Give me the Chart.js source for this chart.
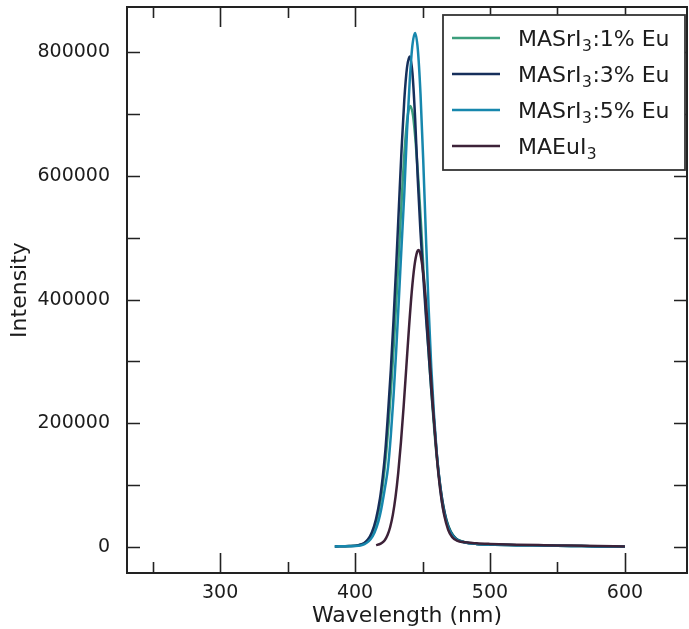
<!DOCTYPE html>
<html>
<head>
<meta charset="utf-8">
<script src="https://cdn.jsdelivr.net/npm/chart.js@4/dist/chart.umd.min.js"></script>
<style>
  html, body { margin: 0; padding: 0; background: #ffffff; }
  canvas { display: block; }
</style>
</head>
<body>
<canvas id="c" width="689" height="629"></canvas>
<script>
// ---- data ----
const seriesLabels = ['MASrI₃:1% Eu', 'MASrI₃:3% Eu', 'MASrI₃:5% Eu', 'MAEuI₃'];
const seriesColors = ['#3c9e7c', '#162f5b', '#1787ad', '#3d2238'];

const wl1 = [385, 396, 403, 407, 410, 413, 416, 419, 421, 423, 425, 427, 429, 431, 433, 435, 437, 439, 441,
  443, 445, 447, 449, 451, 453, 455, 457, 459, 461, 463, 465, 468, 471, 475, 480, 485, 490, 500, 520, 540, 560, 580, 600];
const int1 = [1000, 1500, 3000, 6000, 12000, 24000, 44000, 76000, 108000, 150000, 203000, 267000, 337000, 414000, 496000, 579000, 650000, 697000, 713000,
  697000, 652000, 591000, 518000, 437000, 366000, 299000, 238000, 182000, 136000, 100000, 71000, 42000, 25000, 13500, 8500, 6000, 5000, 4000, 3000, 2500, 1800, 1000, 500];

const wl3 = [385, 395.5, 402.5, 406.5, 409.5, 412.5, 415.5, 418.5, 420.5, 422.5, 424.5, 426.5, 428.5, 430.5, 432.5, 434.5, 436.5, 438.5, 440.5,
  442.5, 444.5, 446.5, 448.5, 450.5, 452.5, 454.5, 456.5, 458.5, 460.5, 462.5, 464.5, 467.5, 470.5, 474.5, 479.5, 485, 490, 500, 520, 540, 560, 580, 600];
const int3 = [1000, 1500, 3000, 6000, 12000, 24000, 45000, 79000, 113000, 157000, 218000, 286000, 366000, 455000, 550000, 644000, 723000, 775000, 793000,
  767000, 694000, 594000, 509000, 439000, 374000, 315000, 254000, 203000, 152000, 110000, 78000, 45000, 26000, 14000, 8500, 6000, 5000, 4000, 3000, 2500, 1800, 1000, 500];

const wl5 = [385, 395, 400, 404, 407, 410, 413, 416, 418.5, 420, 422.5, 424.5, 426.5, 428.5, 430.5, 432.5, 434.5, 436.5, 438.5, 440.5, 442.5, 444.5,
  446.5, 448.5, 450.5, 452.5, 454.5, 456.5, 458.5, 460.5, 462.5, 464.5, 467.5, 470.5, 474.5, 479.5, 485, 490, 500, 520, 540, 560, 580, 600];
const int5 = [1000, 1200, 1500, 2500, 4500, 9000, 17000, 32000, 52000, 68000, 100000, 130000, 180000, 243000, 318000, 402000, 488000, 572000, 672000, 753000, 811000, 831000,
  805000, 733000, 627000, 504000, 388000, 290000, 214000, 153000, 108000, 72000, 42000, 25000, 13000, 8500, 6000, 5000, 4000, 3000, 2500, 1800, 1000, 500];

const wlEu = [415.6, 418, 420, 422, 424, 426, 428, 430, 432, 434, 436, 438, 440, 442, 444, 446, 447,
  448, 450, 452, 454, 456, 458, 460, 462, 464, 466, 469, 472, 476, 480, 490, 500, 520, 540, 560, 580, 600];
const intEu = [3000, 4500, 7000, 11000, 19000, 32000, 52000, 81000, 120000, 169000, 227000, 291000, 355000, 412000, 454000, 477000, 480000,
  477000, 452000, 410000, 350000, 283000, 219000, 162000, 114000, 78000, 52000, 28000, 16000, 10000, 8000, 6000, 5000, 3800, 3000, 2300, 1500, 800];

const xMajorTicks = [300, 400, 500, 600];
const xMinorTicks = [250, 350, 450, 550];
const yMajorTicks = [0, 200000, 400000, 600000, 800000];
const yMinorTicks = [100000, 300000, 500000, 700000];
const xTitle = 'Wavelength (nm)';
const yTitle = 'Intensity';

// ---- build datasets ----
const allWl = [wl1, wl3, wl5, wlEu];
const allInt = [int1, int3, int5, intEu];
const datasets = allWl.map((wl, i) => ({
  label: seriesLabels[i],
  data: wl.map((x, j) => ({ x: x, y: allInt[i][j] })),
  borderColor: seriesColors[i],
  backgroundColor: seriesColors[i],
  borderWidth: 2.5,
  pointRadius: 0,
  cubicInterpolationMode: 'monotone',
  fill: false,
  order: allWl.length - i
}));

const FONT = "'DejaVu Sans', sans-serif";
const INK = '#1c1c1c';

const framePlugin = {
  id: 'mplFrame',
  afterDatasetsDraw(chart) {
    const ctx = chart.ctx;
    const a = chart.chartArea;
    const xs = chart.scales.x, ys = chart.scales.y;
    ctx.save();
    ctx.strokeStyle = '#222222';
    ctx.lineWidth = 1.6;
    ctx.lineCap = 'butt';
    const vTick = (x, len) => {
      ctx.beginPath();
      ctx.moveTo(x, a.bottom); ctx.lineTo(x, a.bottom - len);
      ctx.moveTo(x, a.top); ctx.lineTo(x, a.top + len);
      ctx.stroke();
    };
    const hTick = (y, len) => {
      ctx.beginPath();
      ctx.moveTo(a.left, y); ctx.lineTo(a.left + len, y);
      ctx.moveTo(a.right, y); ctx.lineTo(a.right - len, y);
      ctx.stroke();
    };
    xMajorTicks.forEach(v => vTick(Math.round(xs.getPixelForValue(v)) + 0.5, 20));
    xMinorTicks.forEach(v => vTick(Math.round(xs.getPixelForValue(v)) + 0.5, 11));
    yMajorTicks.forEach(v => hTick(Math.round(ys.getPixelForValue(v)) + 0.5, 13));
    yMinorTicks.forEach(v => hTick(Math.round(ys.getPixelForValue(v)) + 0.5, 13));
    ctx.lineWidth = 2;
    ctx.strokeRect(a.left, a.top, a.right - a.left, a.bottom - a.top);

    // legend
    const bx = a.right - 244, by = a.top + 8, bw = 242, bh = 155;
    ctx.fillStyle = '#ffffff';
    ctx.fillRect(bx, by, bw, bh);
    ctx.strokeStyle = '#333333';
    ctx.lineWidth = 1.8;
    ctx.strokeRect(bx, by, bw, bh);
    chart.data.datasets.forEach((ds, i) => {
      const cy = by + 23 + i * 36;
      ctx.strokeStyle = ds.borderColor;
      ctx.lineWidth = 2.5;
      ctx.beginPath();
      ctx.moveTo(bx + 9, cy); ctx.lineTo(bx + 57, cy);
      ctx.stroke();
      ctx.fillStyle = INK;
      ctx.textBaseline = 'alphabetic';
      ctx.textAlign = 'left';
      const base = cy + 8;
      const parts = ds.label.split('₃');
      let tx = bx + 75;
      ctx.font = '22px ' + FONT;
      ctx.fillText(parts[0], tx, base);
      tx += ctx.measureText(parts[0]).width;
      if (parts.length > 1) {
        ctx.font = '15.5px ' + FONT;
        ctx.fillText('3', tx + 0.5, base + 4.5);
        tx += ctx.measureText('3').width + 1;
        ctx.font = '22px ' + FONT;
        ctx.fillText(parts[1], tx, base);
      }
    });
    ctx.restore();
  }
};

const zeroPad = s => { s.paddingTop = 0; s.paddingBottom = 0; s.paddingLeft = 0; s.paddingRight = 0; };

new Chart(document.getElementById('c'), {
  type: 'line',
  data: { datasets: datasets },
  options: {
    responsive: false,
    animation: false,
    events: [],
    layout: { padding: { top: 7, right: 2, left: 0, bottom: 0 } },
    plugins: { legend: { display: false }, tooltip: { enabled: false } },
    scales: {
      x: {
        type: 'linear',
        min: 231, max: 646,
        afterBuildTicks: s => { s.ticks = xMajorTicks.map(v => ({ value: v })); },
        afterFit: s => { s.height = 56; zeroPad(s); },
        grid: { display: false, drawTicks: false },
        border: { display: false },
        ticks: {
          padding: 9,
          color: INK, font: { family: FONT, size: 19 },
          callback: v => String(v)
        },
        title: {
          display: true, text: xTitle, color: INK,
          font: { family: FONT, size: 22 }, padding: { top: 0, bottom: 0 }
        }
      },
      y: {
        type: 'linear',
        min: -42000, max: 873000,
        afterBuildTicks: s => { s.ticks = yMajorTicks.map(v => ({ value: v })); },
        afterFit: s => { s.width = 127; zeroPad(s); },
        grid: { display: false, drawTicks: false },
        border: { display: false },
        ticks: {
          padding: 17,
          color: INK, font: { family: FONT, size: 19 },
          callback: v => String(v)
        },
        title: {
          display: true, text: yTitle, color: INK,
          font: { family: FONT, size: 22 }, padding: { top: 7, bottom: 0 }
        }
      }
    }
  },
  plugins: [framePlugin]
});
</script>
</body>
</html>
